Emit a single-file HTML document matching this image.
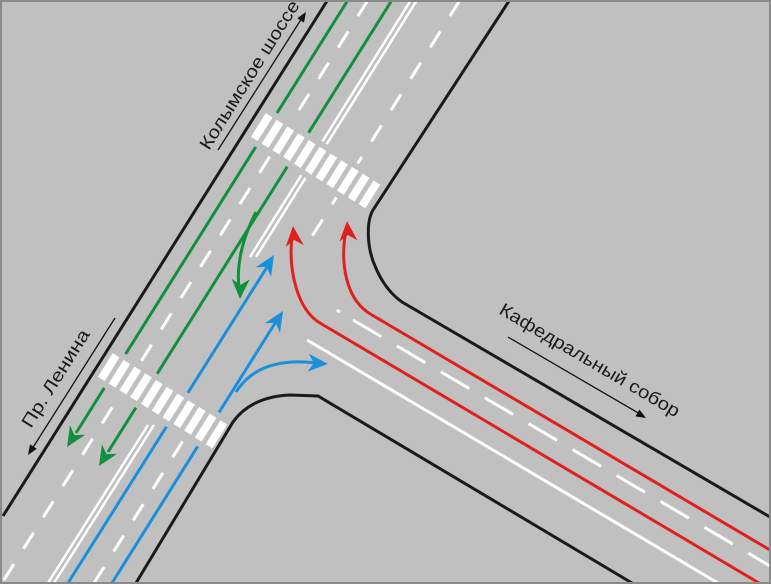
<!DOCTYPE html>
<html><head><meta charset="utf-8"><style>
html,body{margin:0;padding:0;background:#c0c0c0;width:771px;height:584px;overflow:hidden;}
svg{display:block;overflow:hidden;}
text{font-family:"Liberation Sans",sans-serif;fill:#1a1a1a;}
</style></head><body>
<svg width="771" height="584" viewBox="0 0 771 584" xmlns="http://www.w3.org/2000/svg">
<rect x="0" y="0" width="771" height="584" fill="#c0c0c0"/>
<g fill="none" stroke-width="3">
<line x1="348" y1="0" x2="76" y2="433" stroke="#10903c"/>
<line x1="392" y1="0" x2="108" y2="452" stroke="#10903c"/>
<line x1="368" y1="0" x2="2" y2="583" stroke="#fff" stroke-dasharray="19 18"/>
<line x1="411" y1="0" x2="250" y2="257" stroke="#fff" stroke-width="2.5"/>
<line x1="417" y1="0" x2="256" y2="257" stroke="#fff" stroke-width="2.5"/>
<line x1="148" y1="425" x2="48" y2="583" stroke="#fff" stroke-width="2.5"/>
<line x1="154" y1="425" x2="54" y2="583" stroke="#fff" stroke-width="2.5"/>
<line x1="68" y1="583" x2="269" y2="264" stroke="#1a8fdc"/>
<line x1="112" y1="583" x2="277" y2="320" stroke="#1a8fdc"/>
<line x1="460" y1="0" x2="311" y2="238" stroke="#fff" stroke-dasharray="19 18"/>
<line x1="94" y1="583" x2="196" y2="420" stroke="#fff" stroke-dasharray="19 18"/>
<path d="M292,236 C288,272 298,310 320,323 L759,583" stroke="#e0201c"/>
<path d="M346,230 C340,262 345,300 372,315 L770,550" stroke="#e0201c"/>
<line x1="353" y1="320" x2="770" y2="566" stroke="#fff" stroke-dasharray="33 18"/>
<line x1="337" y1="310" x2="340" y2="312" stroke="#fff"/>
<line x1="307" y1="340" x2="718" y2="583" stroke="#fff"/>
<path d="M256,212 C244,235 236,262 239,288" stroke="#10903c"/>
<path d="M236,392 C250,370 275,358 316,363" stroke="#1a8fdc"/>
</g>
<g transform="translate(316,161) rotate(32)">
<rect x="-74" y="-20" width="151" height="40" fill="#c0c0c0"/>
<g fill="#fff">
<rect x="-68" y="-14" width="8" height="28"/><rect x="-55.3" y="-14" width="8" height="28"/><rect x="-42.6" y="-14" width="8" height="28"/><rect x="-29.9" y="-14" width="8" height="28"/><rect x="-17.2" y="-14" width="8" height="28"/><rect x="-4.5" y="-14" width="8" height="28"/><rect x="8.2" y="-14" width="8" height="28"/><rect x="20.9" y="-14" width="8" height="28"/><rect x="33.6" y="-14" width="8" height="28"/><rect x="46.3" y="-14" width="8" height="28"/><rect x="59" y="-14" width="8" height="28"/>
</g></g>
<g transform="translate(163,401) rotate(32)">
<rect x="-75" y="-20" width="150" height="40" fill="#c0c0c0"/>
<g fill="#fff">
<rect x="-68" y="-14" width="8" height="28"/><rect x="-55.3" y="-14" width="8" height="28"/><rect x="-42.6" y="-14" width="8" height="28"/><rect x="-29.9" y="-14" width="8" height="28"/><rect x="-17.2" y="-14" width="8" height="28"/><rect x="-4.5" y="-14" width="8" height="28"/><rect x="8.2" y="-14" width="8" height="28"/><rect x="20.9" y="-14" width="8" height="28"/><rect x="33.6" y="-14" width="8" height="28"/><rect x="46.3" y="-14" width="8" height="28"/><rect x="59" y="-14" width="8" height="28"/>
</g></g>
<g fill="none" stroke="#1a1a1a" stroke-width="3">
<line x1="327" y1="1" x2="3" y2="516"/>
<path d="M509,1 L373,210 C366,222 367,248 375,266 C382,283 392,295 402,302 L770,517"/>
<path d="M136,583 L233,422 C245,405 265,396 290,395 L318,396 L632,583"/>
</g>
<g fill="#10903c">
<polygon points="0,0 -20,-9 -14,0 -20,9" transform="translate(67,447) rotate(122)"/>
<polygon points="0,0 -20,-9 -14,0 -20,9" transform="translate(99,466) rotate(122)"/>
<polygon points="0,0 -20,-9 -14,0 -20,9" transform="translate(240,299) rotate(92)"/>
</g>
<g fill="#1a8fdc">
<polygon points="0,0 -20,-9 -14,0 -20,9" transform="translate(274,255) rotate(-58)"/>
<polygon points="0,0 -20,-9 -14,0 -20,9" transform="translate(283,311) rotate(-58)"/>
<polygon points="0,0 -20,-9 -14,0 -20,9" transform="translate(328,364) rotate(4)"/>
</g>
<g fill="#e0201c">
<polygon points="0,0 -20,-9 -14,0 -20,9" transform="translate(293,226) rotate(-95)"/>
<polygon points="0,0 -20,-9 -14,0 -20,9" transform="translate(347,221) rotate(-94)"/>
</g>
<g stroke="#111" stroke-width="1.3">
<line x1="218" y1="150" x2="302" y2="18"/>
<line x1="115" y1="318" x2="32" y2="449"/>
<line x1="508" y1="337" x2="640" y2="414"/>
</g>
<g fill="#111">
<polygon points="0,0 -10,-4 -10,4" transform="translate(306,12) rotate(-57.5)"/>
<polygon points="0,0 -10,-4 -10,4" transform="translate(28,455) rotate(122.5)"/>
<polygon points="0,0 -10,-4 -10,4" transform="translate(646,418) rotate(30.5)"/>
</g>
<text x="0" y="0" font-size="18" textLength="172" lengthAdjust="spacingAndGlyphs" transform="translate(209,151) rotate(-58)">Колымское шоссе</text>
<text x="0" y="0" font-size="18" textLength="112" lengthAdjust="spacingAndGlyphs" transform="translate(31,429) rotate(-58)">Пр. Ленина</text>
<text x="0" y="0" font-size="18" textLength="206" lengthAdjust="spacingAndGlyphs" transform="translate(498,313) rotate(30.5)">Кафедральный собор</text>
<rect x="1" y="1" width="769" height="582" fill="none" stroke="#8a8a8a" stroke-width="2"/>
</svg>
</body></html>
